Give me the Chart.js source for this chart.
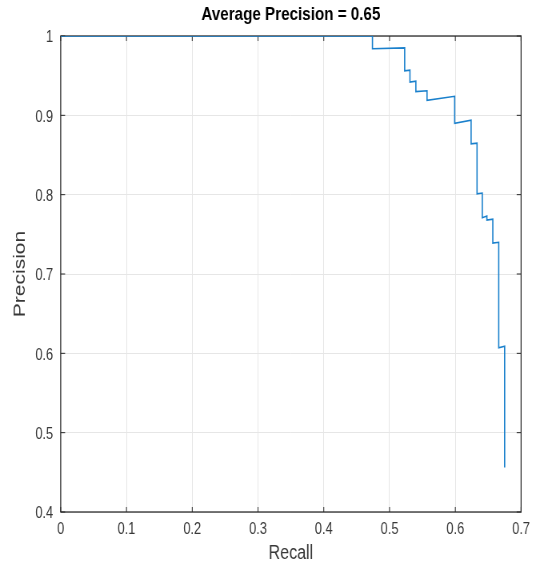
<!DOCTYPE html>
<html>
<head>
<meta charset="utf-8">
<script src="https://cdn.jsdelivr.net/npm/chart.js@4.4.1/dist/chart.umd.min.js"></script>
<style>
	html, body { margin: 0; padding: 0; background: #fff; overflow: hidden; }
	/* the reference picture is squeezed sideways, so draw wide and squeeze */
	#wrap { width: 670px; height: 569px; transform: scaleX(0.8); transform-origin: 0 0; }
</style>
</head>
<body>
<div id="wrap"><canvas id="chart" width="670" height="569"></canvas></div>
<script>
// Precision / recall corners
const recall = [0, 0.474, 0.474, 0.523, 0.523, 0.531, 0.531, 0.540, 0.540, 0.557, 0.557, 0.599, 0.599,
	0.624, 0.624, 0.633, 0.633, 0.641, 0.641, 0.648, 0.648, 0.657, 0.657, 0.666, 0.666, 0.675, 0.675];
const precision = [1, 1, 0.984, 0.985, 0.956, 0.957, 0.942, 0.943, 0.930, 0.931, 0.919, 0.924, 0.890,
	0.894, 0.864, 0.865, 0.801, 0.802, 0.771, 0.773, 0.768, 0.769, 0.739, 0.740, 0.607, 0.609, 0.456];
const xTicks = [0, 0.1, 0.2, 0.3, 0.4, 0.5, 0.6, 0.7];
const yTicks = [0.4, 0.5, 0.6, 0.7, 0.8, 0.9, 1];

const axisColor = "#262626";
const labelColor = "#383838";
Chart.defaults.font.family = "'Liberation Sans', Arial, Helvetica, sans-serif";

// box with inward ticks on all four sides, like the original plot
const framePlugin = {
	id: "frame",
	beforeDatasetsDraw(chart) {
		const { ctx, chartArea: a, scales } = chart;
		ctx.save();
		ctx.strokeStyle = axisColor;
		ctx.lineWidth = 1;
		ctx.beginPath();
		xTicks.forEach((v) => {
			const px = scales.x.getPixelForValue(v);
			ctx.moveTo(px, a.bottom);
			ctx.lineTo(px, a.bottom - 5);
			ctx.moveTo(px, a.top);
			ctx.lineTo(px, a.top + 5);
		});
		yTicks.forEach((v) => {
			const py = scales.y.getPixelForValue(v);
			ctx.moveTo(a.left, py);
			ctx.lineTo(a.left + 5.5, py);
			ctx.moveTo(a.right, py);
			ctx.lineTo(a.right - 5.5, py);
		});
		ctx.stroke();
		ctx.lineWidth = 1.25;
		ctx.strokeRect(a.left, a.top, a.right - a.left, a.bottom - a.top);
		ctx.restore();
	},
};

const ctx = document.getElementById("chart");
new Chart(ctx, {
	type: "line",
	data: {
		datasets: [
			{
				label: "Precision",
				data: recall.map((r, i) => ({ x: r, y: precision[i] })),
				borderColor: "#1a80cc",
				borderWidth: 1.6,
				pointRadius: 0,
				tension: 0,
				fill: false,
			},
		],
	},
	options: {
		responsive: false,
		animation: false,
		layout: {
			padding: { left: 0, right: 16.9, top: 0, bottom: 0 },
		},
		plugins: {
			legend: { display: false },
			tooltip: { enabled: false },
			title: {
				display: true,
				fullSize: false,
				text: "Average Precision = 0.65",
				color: "#000",
				font: { size: 19, weight: "bold" },
				lineHeight: 1.2,
				padding: { top: 3.6, bottom: 9.6 },
			},
		},
		scales: {
			x: {
				type: "linear",
				min: 0,
				max: 0.7,
				afterBuildTicks: (s) => {
					s.ticks = xTicks.map((v) => ({ value: v }));
				},
				afterFit: (s) => {
					s.height = 57;
				},
				grid: {
					color: "#e6e6e6",
					drawTicks: false,
				},
				border: { display: false },
				ticks: {
					color: labelColor,
					font: { size: 16 },
					padding: 7.5,
					maxRotation: 0,
					autoSkip: false,
					callback: (v) => String(v),
				},
				title: {
					display: true,
					text: "Recall",
					color: labelColor,
					font: { size: 20 },
					padding: { top: 0, bottom: 4 },
				},
			},
			y: {
				type: "linear",
				min: 0.4,
				max: 1,
				afterBuildTicks: (s) => {
					s.ticks = yTicks.map((v) => ({ value: v }));
				},
				afterFit: (s) => {
					s.width = 75.9;
				},
				grid: {
					color: "#e6e6e6",
					drawTicks: false,
				},
				border: { display: false },
				ticks: {
					color: labelColor,
					font: { size: 16 },
					padding: 9.5,
					labelOffset: 2,
					autoSkip: false,
					callback: (v) => String(v),
				},
				title: {
					display: true,
					text: "Precision",
					color: labelColor,
					font: { size: 21 },
					padding: { top: 12.4, bottom: 0 },
				},
			},
		},
	},
	plugins: [framePlugin],
});
</script>
</body>
</html>
